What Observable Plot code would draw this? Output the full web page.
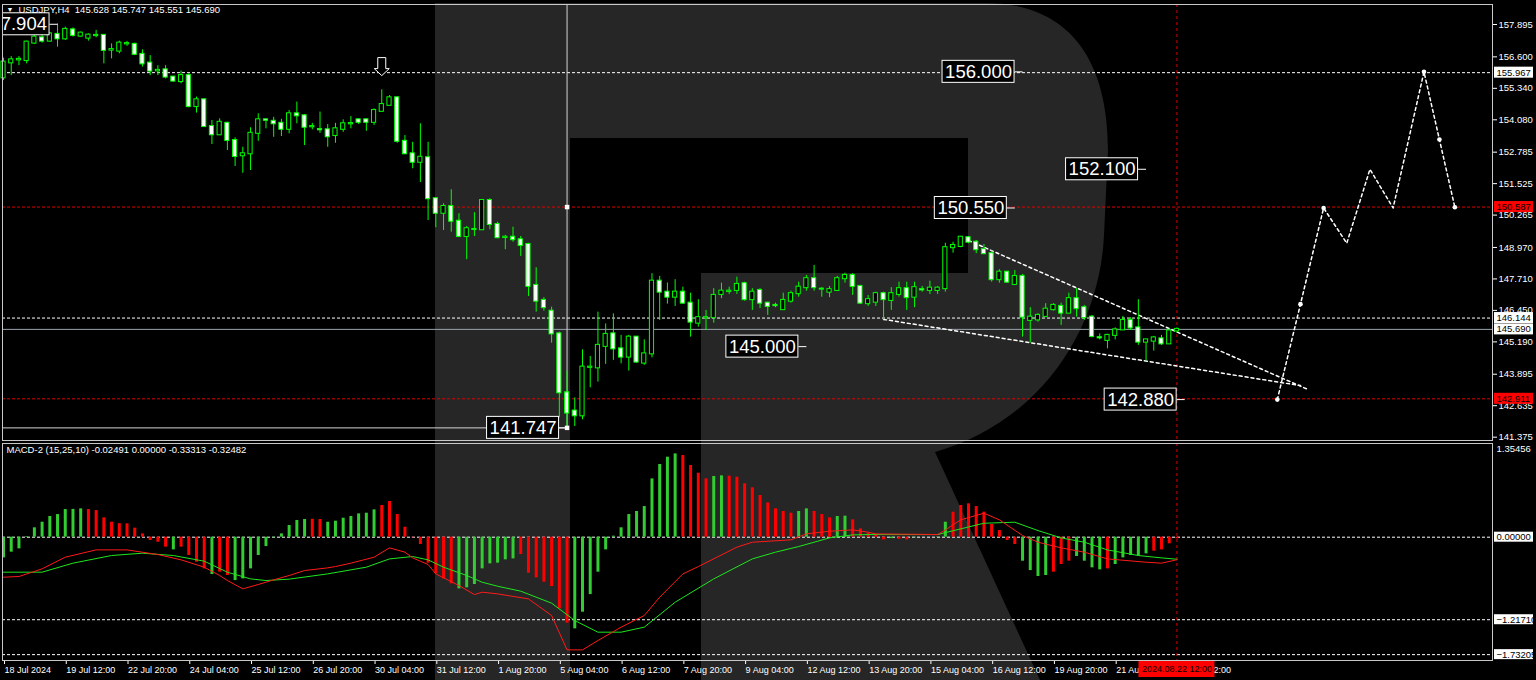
<!DOCTYPE html>
<html>
<head>
<meta charset="utf-8">
<title>USDJPY H4</title>
<script src="https://cdn.jsdelivr.net/npm/d3@7"></script>
<script src="https://cdn.jsdelivr.net/npm/@observablehq/plot@0.6"></script>
<style>
  html, body { margin: 0; padding: 0; background: #000; }
  #chart { position: relative; width: 1536px; height: 680px; overflow: hidden; background: #000; }
  #chart svg { position: absolute; left: 0; }
</style>
</head>
<body>
<div id="chart"></div>
<script>
// ---------------- USDJPY H4 candles (bar 0 = 18 Jul 2024, one bar per 4 hours) ----------------
const open = [
  155.76,156.36,156.48,156.45,157.15,157.36,157.23,157.50,157.32,157.68,
  157.43,157.35,157.45,157.46,156.87,156.83,157.12,157.10,156.70,156.35,
  156.04,156.08,155.79,155.61,155.85,154.61,154.88,153.81,153.48,153.94,
  153.25,152.64,152.72,153.54,154.08,154.02,153.94,153.70,154.32,154.24,
  153.80,153.69,153.68,153.45,153.70,153.92,154.08,154.08,153.98,154.42,
  154.66,154.96,153.22,152.72,152.38,152.56,150.92,150.34,150.61,150.02,
  149.41,149.69,149.68,150.85,149.89,149.37,149.38,149.28,149.09,147.45,
  146.85,146.42,145.51,143.15,142.42,142.23,144.17,144.15,145.01,145.51,
  144.91,144.58,145.38,144.34,144.71,147.62,147.18,146.98,147.18,146.74,
  145.94,146.15,146.16,147.09,147.21,147.25,147.52,146.88,147.25,146.74,
  146.65,146.48,146.82,147.12,147.36,147.72,147.30,147.18,147.25,147.72,
  147.85,147.41,146.72,146.78,147.12,146.85,147.09,147.32,146.98,147.28,
  147.25,147.25,147.32,148.96,149.01,149.36,149.18,148.88,148.72,147.68,
  147.98,147.49,147.81,146.05,146.07,146.21,146.48,146.61,146.34,146.92,
  146.56,146.18,145.36,145.25,145.45,145.67,146.05,145.75,145.18,145.22,
  145.31,145.11,145.628
];
const high = [
  156.55,156.61,156.61,157.23,157.46,157.46,157.56,157.92,157.79,157.76,
  157.59,157.52,157.66,157.47,157.12,157.23,157.22,157.15,156.88,156.65,
  156.25,156.25,155.81,156.03,155.92,154.99,154.92,154.05,154.12,153.98,
  153.36,152.98,153.76,154.32,154.10,154.18,154.10,154.45,154.79,154.29,
  153.94,154.39,153.89,153.94,154.08,154.21,154.10,154.10,154.52,155.28,
  155.05,154.99,153.45,153.18,153.92,153.18,150.95,150.72,151.28,150.32,
  149.81,150.36,150.88,150.92,149.98,149.45,149.78,149.41,149.14,148.16,
  146.96,146.58,145.58,144.02,142.95,144.87,144.61,146.38,145.91,146.31,
  145.45,145.45,145.40,145.27,147.92,147.81,147.55,147.68,147.38,147.14,
  146.88,146.45,147.32,147.54,147.38,147.78,147.58,147.32,147.32,146.78,
  146.74,147.14,147.22,147.58,147.85,148.25,147.36,147.41,147.81,147.94,
  147.92,147.45,147.05,147.18,147.18,147.36,147.58,147.58,147.58,147.41,
  147.62,147.40,149.14,149.18,149.41,149.41,149.25,149.09,148.82,148.08,
  148.00,148.05,147.89,146.56,146.32,146.72,146.72,146.74,147.14,147.32,
  146.65,146.25,145.51,145.49,145.75,146.21,146.16,146.88,145.28,145.41,
  145.45,145.71,145.747
];
const low = [
  155.65,155.85,156.25,156.32,157.10,157.15,157.19,156.99,157.26,157.39,
  157.39,157.23,157.36,156.32,156.52,156.72,157.02,156.65,156.19,155.85,
  155.85,155.72,155.59,155.52,154.56,154.35,153.78,153.09,153.45,152.85,
  152.21,151.94,152.05,153.22,153.72,153.38,153.41,153.52,153.92,153.05,
  153.68,153.54,152.98,153.14,153.58,153.72,153.89,153.62,153.85,154.40,
  154.65,153.14,152.69,152.12,151.57,150.05,149.76,149.65,149.58,149.36,
  148.48,149.41,149.65,149.68,149.32,148.88,149.18,148.61,147.01,146.38,
  146.42,145.14,142.15,141.747,141.80,142.07,143.35,143.58,144.29,144.45,
  144.31,144.02,144.34,144.25,144.55,146.05,146.70,146.61,146.69,145.38,
  145.78,145.65,145.94,146.92,147.09,147.09,146.82,146.45,146.52,146.25,
  146.56,146.45,146.74,146.98,147.22,147.22,146.98,146.96,147.22,147.54,
  147.05,146.69,146.61,146.61,146.07,146.45,146.98,146.45,146.56,147.18,
  147.09,147.09,147.18,148.74,148.96,149.12,148.72,148.69,147.58,147.54,
  147.54,147.45,145.38,145.14,145.98,146.16,146.42,145.85,146.32,146.18,
  146.05,145.35,145.27,144.91,145.27,145.65,145.65,145.05,144.42,144.82,
  145.05,145.09,145.551
];
const close = [
  156.39,156.48,156.50,157.19,157.39,157.23,157.52,157.32,157.70,157.46,
  157.55,157.47,157.46,156.86,156.89,157.15,157.13,156.70,156.32,156.03,
  156.06,155.79,155.63,155.85,154.61,154.88,153.81,153.48,153.98,153.25,
  152.61,152.72,153.54,154.08,154.06,153.92,153.70,154.32,154.24,153.78,
  153.81,153.68,153.40,153.72,153.92,153.93,153.98,153.98,154.45,154.69,
  154.96,153.22,152.72,152.38,152.58,150.92,150.34,150.61,150.02,149.41,
  149.72,149.69,150.85,149.89,149.36,149.38,149.28,149.05,147.41,146.82,
  146.56,145.51,143.15,142.34,142.23,144.18,144.18,145.05,145.49,144.91,
  144.58,145.38,144.38,144.71,147.62,147.18,146.98,147.18,146.74,145.98,
  146.16,146.16,147.05,147.22,147.22,147.49,146.88,147.18,146.74,146.61,
  146.64,146.85,147.12,147.38,147.72,147.36,147.30,147.28,147.72,147.85,
  147.41,146.74,146.88,147.12,146.88,147.12,147.32,146.96,147.36,147.27,
  147.34,147.34,148.96,149.05,149.38,149.18,148.88,148.72,147.68,147.98,
  147.58,147.81,146.18,146.18,146.25,146.50,146.65,146.34,146.92,146.52,
  146.16,145.41,145.35,145.45,145.67,146.05,145.75,145.18,145.27,145.35,
  145.11,145.628,145.690
];

// date labels of the time scale (bar index -> text)
const timeTicks = [0, 8, 16, 24, 32, 40, 48, 56, 64, 72, 80, 88, 96, 104, 112, 120, 128, 136, 144, 152];
const timeLabels = [
  "18 Jul 2024", "19 Jul 12:00", "22 Jul 20:00", "24 Jul 04:00", "25 Jul 12:00",
  "26 Jul 20:00", "30 Jul 04:00", "31 Jul 12:00", "1 Aug 20:00", "5 Aug 04:00",
  "6 Aug 12:00", "7 Aug 20:00", "9 Aug 04:00", "12 Aug 12:00", "13 Aug 20:00",
  "15 Aug 04:00", "16 Aug 12:00", "19 Aug 20:00", "21 Aug 04:00", "22 Aug 12:00"
];
const cursorBar = 152;
const cursorLabel = "2024.08.22 12:00";

// price scale labels
const priceTicks = [157.895, 156.600, 155.340, 154.080, 152.785, 151.525, 150.265,
                    148.970, 147.710, 146.450, 145.190, 143.895, 142.635, 141.375];

// horizontal levels
const whiteLevels = [155.967, 146.144];
const redLevels = [150.587, 142.911];
const bidPrice = 145.690;

// swing low of 5 Aug
const lowBar = 73;
const lowPrice = 141.747;
const lowMarkPrices = [150.587, 141.747];

// price label objects: anchor bar and price
const labelBars = [7, 132, 148, 131, 104, 153, 73];
const labelPrices = [157.904, 156.000, 152.100, 150.550, 145.000, 142.880, 141.747];

// converging trend lines
const upperTrendBars = [125, 169];
const upperTrendPrices = [149.25, 143.28];
const lowerTrendBars = [114, 168];
const lowerTrendPrices = [146.09, 143.44];

// projected path
const forecastBars = [165, 168, 171, 174, 177, 180, 184, 186, 188];
const forecastPrices = [142.88, 146.70, 150.55, 149.14, 152.10, 150.55, 156.00, 153.29, 150.58];
const forecastMarked = [1, 1, 1, 0, 0, 0, 1, 1, 1];

// resistance arrow
const arrowBar = 49;
const arrowPrice = 156.21;

// tags on the price scale
const tagPrices = [155.967, 150.587, 146.144, 145.690, 142.911];
const tagIsRed = [0, 1, 0, 0, 1];

// ---------------- MACD-2 (15,25,10) ----------------
const histValues = [
  -0.305,-0.221,-0.172,0.010,0.138,0.221,0.305,0.334,0.408,0.410,
  0.418,0.408,0.393,0.285,0.221,0.200,0.197,0.133,0.049,-0.049,
  -0.074,-0.147,-0.187,-0.147,-0.270,-0.369,-0.467,-0.551,-0.516,-0.565,
  -0.640,-0.615,-0.467,-0.270,-0.138,-0.010,0.049,0.172,0.246,0.261,
  0.265,0.261,0.221,0.236,0.280,0.305,0.344,0.354,0.403,0.467,
  0.526,0.334,0.147,-0.010,-0.108,-0.383,-0.541,-0.615,-0.688,-0.762,
  -0.747,-0.698,-0.467,-0.393,-0.383,-0.334,-0.320,-0.256,-0.531,-0.600,
  -0.664,-0.728,-1.057,-1.268,-1.352,-1.106,-0.846,-0.516,-0.187,0.015,
  0.138,0.334,0.379,0.452,0.860,1.072,1.180,1.229,1.205,1.057,
  0.944,0.860,0.895,0.905,0.900,0.885,0.787,0.728,0.615,0.506,
  0.418,0.379,0.354,0.379,0.418,0.379,0.334,0.285,0.305,0.310,
  0.256,0.123,0.059,0.039,-0.040,-0.020,-0.030,-0.040,-0.010,0.000,
  0.000,0.005,0.221,0.369,0.467,0.492,0.452,0.369,0.187,0.098,
  -0.049,-0.108,-0.354,-0.492,-0.580,-0.565,-0.516,-0.403,-0.354,-0.285,
  -0.354,-0.452,-0.482,-0.467,-0.403,-0.305,-0.270,-0.280,-0.246,-0.206,
  -0.187,-0.098,-0.025
];
// g = rising bar, r = falling bar
const histColors =
  "gggggggggggrrrrrrrrrrrgrrrrgrrgggggggggg" +
  "rrgggggggrrrrrrrrrrggggggggrrrrrrrgggggg" +
  "ggggggggrrrrggrrrrrrrrrggrrrggrrrrrgrrgg" +
  "gggrrrrrrrrrggggrrrggggrggggg";
const macdBars = [0, 2, 5, 8, 12, 16, 20, 23, 26, 28, 29, 31, 33, 35, 37, 39, 42, 43, 45, 48,
  50, 52, 53, 55, 56, 59, 61, 62, 64, 68, 71, 73, 75, 77, 80, 83, 85, 88, 90, 95,
  97, 102, 104, 107, 110, 112, 113, 121, 122, 124, 127, 129, 132, 134, 137, 140, 143, 148, 150, 152];
const macdValues = [-0.590, -0.580, -0.467, -0.295, -0.187, -0.187, -0.256, -0.334, -0.442, -0.565,
  -0.639, -0.762, -0.698, -0.629, -0.565, -0.492, -0.452, -0.433, -0.383, -0.295,
  -0.157, -0.221, -0.305, -0.403, -0.541, -0.713, -0.846, -0.811, -0.836, -0.910,
  -1.155, -1.662, -1.662, -1.524, -1.327, -1.155, -0.885, -0.541, -0.433, -0.147,
  -0.074, -0.039, 0.049, 0.088, 0.108, 0.074, 0.049, 0.039, 0.108, 0.256,
  0.354, 0.256, 0.025, -0.074, -0.157, -0.221, -0.320, -0.369, -0.383, -0.333];
const signalBars = [0, 5, 9, 14, 18, 22, 26, 29, 32, 34, 37, 42, 47, 50, 53, 55, 57, 60, 62, 64,
  67, 71, 74, 77, 80, 83, 87, 92, 97, 100, 103, 107, 110, 112, 121, 124, 127, 131, 134, 137,
  140, 143, 147, 150, 152];
const signalValues = [-0.516, -0.516, -0.383, -0.270, -0.236, -0.270, -0.354, -0.516, -0.615, -0.639,
  -0.619, -0.541, -0.442, -0.320, -0.285, -0.334, -0.442, -0.565, -0.664, -0.723,
  -0.796, -0.973, -1.229, -1.401, -1.401, -1.327, -0.959, -0.615, -0.320, -0.221,
  -0.138, -0.010, 0.034, 0.039, 0.039, 0.123, 0.206, 0.221, 0.098, -0.010,
  -0.074, -0.187, -0.270, -0.305, -0.325];
const macdLevels = [0, -1.2171, -1.73205];
const macdTop = 1.35456;
const macdTitle = "MACD-2 (15,25,10) -0.02491 0.00000 -0.33313 -0.32482";
const chartTitle = "USDJPY,H4  145.628 145.747 145.551 145.690";

// ---------------- layout ----------------
const WIDTH = 1536;
const PLOT_LEFT = 2, PLOT_RIGHT = 1492;          // plot area, px
const FIRST_BAR_PX = 3, BAR_PX = 7.72;           // bar spacing, px
const barAtPx = px => (px - FIRST_BAR_PX) / BAR_PX;
const X_DOMAIN = [barAtPx(PLOT_LEFT), barAtPx(PLOT_RIGHT)];
const bpp = 1 / BAR_PX;                          // bars per pixel

const MAIN_H = 441, MAIN_TOP = 4, MAIN_BOTTOM = 1;
const PRICE_DOMAIN = [141.242, 158.696];
const ppp = (PRICE_DOMAIN[1] - PRICE_DOMAIN[0]) / (MAIN_H - MAIN_TOP - MAIN_BOTTOM);

const SUB_Y = 441, SUB_H = 239, SUB_TOP = 2, SUB_BOTTOM = 20;
const MACD_DOMAIN = [-1.8186, 1.382];
const vpp = (MACD_DOMAIN[1] - MACD_DOMAIN[0]) / (SUB_H - SUB_TOP - SUB_BOTTOM);
const macdAtPx = py => MACD_DOMAIN[0] + (SUB_H - SUB_BOTTOM - py) * vpp;

const LIME = "#00ff00", RED = "#ff0000", FRAME = "#c8c8c8";
const font = "'Liberation Sans', Arial, sans-serif";
const fmt3 = d3.format(".3f"), fmt5 = d3.format(".5f");

// hollow down-pointing arrow used as a dot symbol
const downArrow = {
  draw(context) {
    context.moveTo(-4, -9);
    context.lineTo(4, -9);
    context.lineTo(4, 2);
    context.lineTo(7.5, 2);
    context.lineTo(0, 9);
    context.lineTo(-7.5, 2);
    context.lineTo(-4, 2);
    context.closePath();
  }
};

const candles = open.map((o, i) => ({i, o, h: high[i], l: low[i], c: close[i]}));
const priceLabels = labelBars.map((bar, k) => ({bar, price: labelPrices[k]}));
const upperTrend = upperTrendBars.map((bar, k) => ({bar, price: upperTrendPrices[k]}));
const lowerTrend = lowerTrendBars.map((bar, k) => ({bar, price: lowerTrendPrices[k]}));
const forecast = forecastBars.map((bar, k) => ({bar, price: forecastPrices[k], mark: forecastMarked[k]}));
const tags = tagPrices.map((price, k) => ({price, red: tagIsRed[k]}));
const hist = histValues.map((v, i) => ({i, v, up: histColors[i] === "g"}));
const macdLine = macdBars.map((bar, k) => ({bar, v: macdValues[k]}));
const signalLine = signalBars.map((bar, k) => ({bar, v: signalValues[k]}));
const tickText = new Map(timeTicks.map((t, k) => [t, timeLabels[k]]));

const root = document.getElementById("chart");

// ---------------- background logo ----------------
const logo = d3.create("svg").attr("width", WIDTH).attr("height", 680).style("top", "0px");
logo.append("path")
  .attr("fill", "#262626")
  .attr("d", "M435,3 H985 C1068,3 1108,58 1108,150 L1104,235 C1100,325 1045,420 935,452 " +
             "L1040,680 H701 V273 H968 V138 H570 V680 H435 Z");
root.appendChild(logo.node());

// ---------------- price panel ----------------
const mainChart = Plot.plot({
  width: WIDTH, height: MAIN_H,
  marginLeft: PLOT_LEFT, marginRight: WIDTH - PLOT_RIGHT, marginTop: MAIN_TOP, marginBottom: MAIN_BOTTOM,
  style: {background: "transparent", color: "#fff", fontFamily: font, fontSize: "9.5px", overflow: "visible"},
  x: {domain: X_DOMAIN, axis: null},
  y: {domain: PRICE_DOMAIN, axis: null},
  marks: [
    Plot.ruleY(whiteLevels, {y: d => d, stroke: "#fff", strokeDasharray: "3,2"}),
    Plot.ruleY(redLevels, {y: d => d, stroke: "#e00000", strokeDasharray: "3,2"}),
    Plot.ruleY([bidPrice], {y: d => d, stroke: "#9aa3ad"}),
    Plot.ruleX([cursorBar], {x: d => d, stroke: "#e00000", strokeDasharray: "3,3"}),
    Plot.ruleX([lowBar], {x: d => d, y1: lowPrice, y2: PRICE_DOMAIN[1], stroke: "#d4d4d4"}),
    Plot.ruleY([lowPrice], {y: d => d, x1: X_DOMAIN[0], x2: lowBar, stroke: "#d4d4d4"}),
    Plot.line(upperTrend, {x: "bar", y: "price", stroke: "#fff", strokeDasharray: "3,3"}),
    Plot.line(lowerTrend, {x: "bar", y: "price", stroke: "#fff", strokeDasharray: "3,3"}),
    Plot.line(forecast, {x: "bar", y: "price", stroke: "#fff", strokeDasharray: "3,3", clip: true}),
    Plot.dot(forecast.filter(d => d.mark), {x: "bar", y: "price", r: 2.3, fill: "#fff", stroke: "none"}),
    // candles: wicks, then bodies (white = falling bar, black = rising bar)
    Plot.ruleX(candles, {x: "i", y1: "l", y2: "h", stroke: LIME}),
    Plot.rect(candles, {
      x1: d => d.i - 0.27, x2: d => d.i + 0.27, y1: "o", y2: "c",
      insetTop: -0.5, insetBottom: -0.5,
      fill: d => d.c < d.o ? "#fff" : "#000", stroke: LIME
    }),
    Plot.dot(lowMarkPrices, {x: lowBar, y: d => d, symbol: "square", r: 2.5, fill: "#fff", stroke: "none"}),
    Plot.dot([arrowPrice], {x: arrowBar, y: d => d, symbol: downArrow, fill: "#000", stroke: "#fff", strokeWidth: 1}),
    // price label objects
    Plot.rect(priceLabels, {
      x1: d => d.bar - 80 * bpp, x2: d => d.bar - 8 * bpp,
      y1: d => d.price - 11 * ppp, y2: d => d.price + 11 * ppp,
      fill: "#000", stroke: "#fff", clip: true
    }),
    Plot.link(priceLabels, {x1: d => d.bar - 8 * bpp, x2: "bar", y1: "price", y2: "price", stroke: "#fff", clip: true}),
    Plot.text(priceLabels, {x: "bar", y: "price", dx: -44, text: d => fmt3(d.price), fill: "#fff",
      fontSize: 18.5, textAnchor: "middle", lineAnchor: "middle", clip: true}),
    // price scale
    Plot.axisY(priceTicks, {anchor: "right", tickSize: 4, tickPadding: 2, tickFormat: fmt3,
      fontSize: 9.5, label: null}),
    Plot.rect(tags, {
      x1: barAtPx(1494), x2: barAtPx(1533),
      y1: d => d.price - 5.5 * ppp, y2: d => d.price + 5.5 * ppp,
      fill: d => d.red ? RED : "#fff"
    }),
    Plot.text(tags, {x: barAtPx(1496), y: "price", text: d => fmt3(d.price), fill: "#000",
      fontSize: 9.5, textAnchor: "start", lineAnchor: "middle"}),
    Plot.frame({stroke: FRAME}),
    Plot.text(["\u25BC"], {frameAnchor: "top-left", dx: 4, dy: 3, text: d => d, fill: "#fff",
      fontSize: 7, textAnchor: "start", lineAnchor: "top"}),
    Plot.text([chartTitle], {frameAnchor: "top-left", dx: 16, dy: 2, text: d => d, fill: "#fff",
      fontSize: 9.5, textAnchor: "start", lineAnchor: "top"})
  ]
});
mainChart.style.top = "0px";
root.appendChild(mainChart);

// ---------------- MACD panel ----------------
const subChart = Plot.plot({
  width: WIDTH, height: SUB_H,
  marginLeft: PLOT_LEFT, marginRight: WIDTH - PLOT_RIGHT, marginTop: SUB_TOP, marginBottom: SUB_BOTTOM,
  style: {background: "transparent", color: "#fff", fontFamily: font, fontSize: "9px", overflow: "visible"},
  x: {domain: X_DOMAIN, axis: null},
  y: {domain: MACD_DOMAIN, axis: null},
  marks: [
    Plot.ruleY(macdLevels, {y: d => d, stroke: "#fff", strokeDasharray: "3,2"}),
    Plot.ruleX([cursorBar], {x: d => d, stroke: "#e00000", strokeDasharray: "3,3"}),
    Plot.ruleX(hist, {x: "i", y1: 0, y2: "v", stroke: d => d.up ? "#32cd32" : RED, strokeWidth: 3}),
    Plot.line(signalLine, {x: "bar", y: "v", stroke: "#1ee61e", strokeWidth: 1}),
    Plot.line(macdLine, {x: "bar", y: "v", stroke: "#ff1a1a", strokeWidth: 1}),
    // time scale
    Plot.axisX(timeTicks, {anchor: "bottom", tickSize: 4, tickPadding: 2, textAnchor: "start", dx: 1,
      tickFormat: d => tickText.get(d), fontSize: 9, label: null}),
    Plot.rect([cursorBar], {
      x1: d => d - 38 * bpp, x2: d => d + 38 * bpp,
      y1: macdAtPx(SUB_H - SUB_BOTTOM + 1), y2: macdAtPx(SUB_H - SUB_BOTTOM + 17), fill: RED
    }),
    Plot.text([cursorBar], {x: d => d, y: macdAtPx(SUB_H - SUB_BOTTOM + 9), text: () => cursorLabel,
      fill: "#000", fontSize: 9, textAnchor: "middle", lineAnchor: "middle"}),
    // value scale
    Plot.rect(macdLevels, {
      x1: barAtPx(1494), x2: barAtPx(1533), y1: d => d - 5 * vpp, y2: d => d + 5 * vpp, fill: "#fff"
    }),
    Plot.text(macdLevels, {x: barAtPx(1496), y: d => d, text: d => fmt5(d), fill: "#000",
      fontSize: 9.5, textAnchor: "start", lineAnchor: "middle"}),
    Plot.text([macdTop], {x: barAtPx(1496), y: d => d, dy: 4, text: d => fmt5(d), fill: "#fff",
      fontSize: 9.5, textAnchor: "start", lineAnchor: "middle"}),
    Plot.frame({stroke: FRAME}),
    Plot.text([macdTitle], {frameAnchor: "top-left", dx: 4, dy: 3, text: d => d, fill: "#fff",
      fontSize: 9.5, textAnchor: "start", lineAnchor: "top"})
  ]
});
subChart.style.top = SUB_Y + "px";
root.appendChild(subChart);
</script>
</body>
</html>
